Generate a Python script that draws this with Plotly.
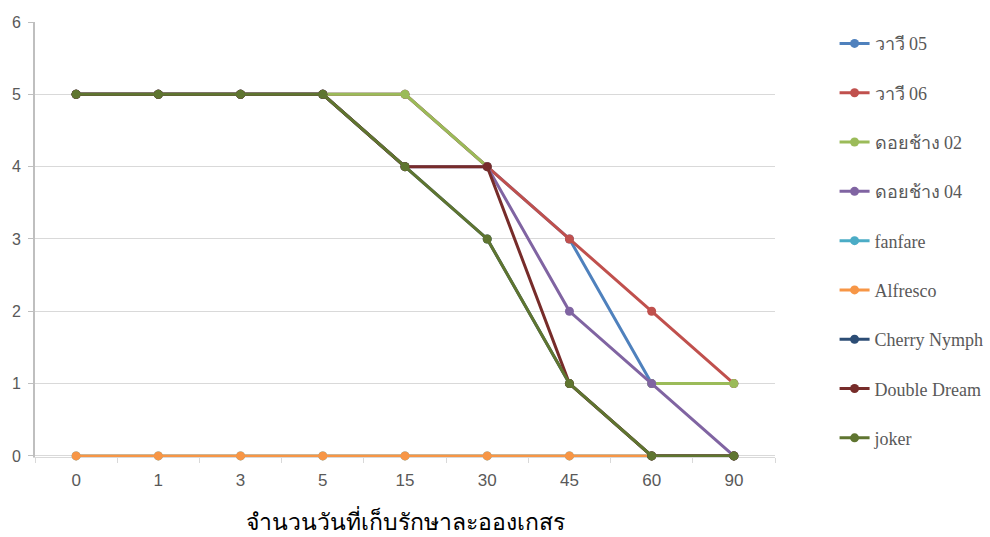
import plotly.graph_objects as go

days = ["0", "1", "3", "5", "15", "30", "45", "60", "90"]
series_names = ["วาวี 05", "วาวี 06", "ดอยช้าง 02", "ดอยช้าง 04", "fanfare",
                "Alfresco", "Cherry Nymph", "Double Dream", "joker"]
wawee05 = [5, 5, 5, 5, 5, 4, 3, 1, 1]
wawee06 = [5, 5, 5, 5, 5, 4, 3, 2, 1]
doichang02 = [5, 5, 5, 5, 5, 4, None, 1, 1]
doichang04 = [5, 5, 5, 5, 4, 4, 2, 1, 0]
fanfare = [0, 0, 0, 0, 0, 0, 0, 0, 0]
alfresco = [0, 0, 0, 0, 0, 0, 0, 0, 0]
cherry_nymph = [5, 5, 5, 5, 4, 3, 1, 0, 0]
double_dream = [5, 5, 5, 5, 4, 4, 1, 0, 0]
joker = [5, 5, 5, 5, 4, 3, 1, 0, 0]
values = [wawee05, wawee06, doichang02, doichang04, fanfare, alfresco,
          cherry_nymph, double_dream, joker]
colors = ["#4F81BD", "#C0504D", "#9BBB59", "#8064A2", "#4BACC6",
          "#F79646", "#2C4D75", "#772C2A", "#5F7530"]

fig = go.Figure()
for name, vals, col in zip(series_names, values, colors):
    fig.add_trace(go.Scatter(
        x=days, y=vals, name=name, mode="lines+markers",
        line=dict(color=col, width=3), marker=dict(color=col, size=9),
        connectgaps=False, legendgroup=name, cliponaxis=False,
    ))

fig.update_layout(
    width=990, height=537,
    margin=dict(l=35, r=215, t=22, b=80, autoexpand=False),
    paper_bgcolor="white", plot_bgcolor="white",
    showlegend=True,
    legend=dict(
        xref="container", yref="container",
        x=0.843, y=0.953, xanchor="left", yanchor="top",
        font=dict(family="Liberation Serif, Noto Sans, serif", size=18, color="#595959"),
        tracegroupgap=22.9, itemwidth=30, maxheight=530,
    ),
    xaxis=dict(
        type="category", range=[-0.5, 8.5], automargin=False,
        showgrid=False, showline=True, linecolor="#D9D9D9", linewidth=1,
        ticks="outside", tickson="boundaries", ticklen=5, tickcolor="#D9D9D9",
        tickfont=dict(family="Liberation Sans Narrow, Liberation Sans, sans-serif",
                      size=17, color="#595959"),
        ticklabelstandoff=8,
        title=dict(text="จำนวนวันที่เก็บรักษาละอองเกสร",
                   font=dict(family="Noto Sans, sans-serif", size=23, color="#000000"),
                   standoff=35),
        fixedrange=True, layer="below traces",
    ),
    yaxis=dict(
        range=[-0.015, 6], tickvals=[0, 1, 2, 3, 4, 5, 6],
        showgrid=True, gridcolor="#D9D9D9", gridwidth=1,
        showline=True, linecolor="#BFBFBF", linewidth=2, automargin=False,
        ticks="outside", ticklen=5, tickcolor="#BFBFBF",
        tickfont=dict(family="Liberation Sans, sans-serif", size=16, color="#595959"),
        ticklabelstandoff=4,
        zeroline=False, fixedrange=True, layer="below traces",
    ),
)

fig.write_html("out.html", config={"displayModeBar": False},
               post_script="document.body.style.margin='0';")
